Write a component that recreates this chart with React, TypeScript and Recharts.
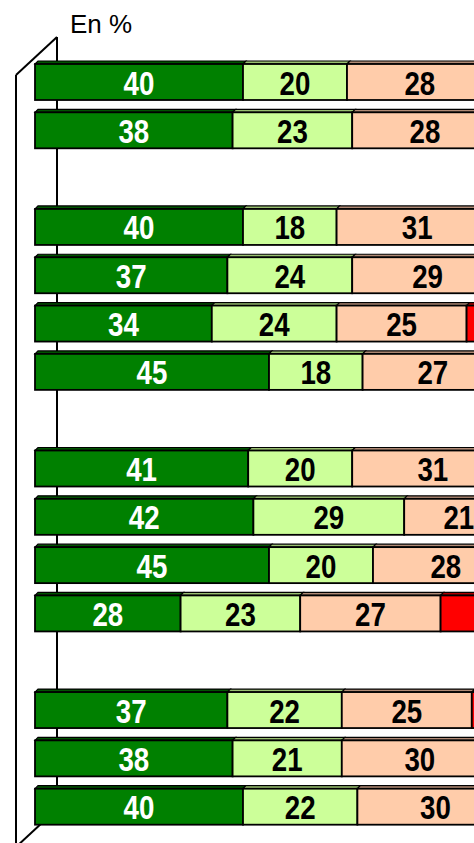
import { BarChart, Bar, XAxis, YAxis, LabelList } from "recharts";

// rows, with empty rows between the groups
const categories = [
  "Ligne 1", "Ligne 2", "",
  "Ligne 3", "Ligne 4", "Ligne 5", "Ligne 6", " ",
  "Ligne 7", "Ligne 8", "Ligne 9", "Ligne 10", "  ",
  "Ligne 11", "Ligne 12", "Ligne 13",
];
const darkGreen = [40, 38, null, 40, 37, 34, 45, null, 41, 42, 45, 28, null, 37, 38, 40];
const lightGreen = [20, 23, null, 18, 24, 24, 18, null, 20, 29, 20, 23, null, 22, 21, 22];
const peach = [28, 28, null, 31, 29, 25, 27, null, 31, 21, 28, 27, null, 25, 30, 30];
const red = [8, 7, null, 7, 6, 12, 7, null, 5, 5, 4, 20, null, 12, 7, 5];

const data = categories.map((name, i) => ({
  name,
  a: darkGreen[i],
  b: lightGreen[i],
  c: peach[i],
  d: red[i],
}));

const FONT = "'Liberation Sans Narrow', 'Arial Narrow', 'Liberation Sans', Arial, sans-serif";

function Bar3D(props: any) {
  const { x, y, width, height, fill, top } = props;
  if (!width || width <= 0 || !isFinite(width) || !isFinite(y)) return null;
  const d = 3;
  const face = `M${x},${y} L${x + d},${y - d} L${x + width + d},${y - d} L${x + width},${y} Z`;
  return (
    <g>
      <path d={face} fill={top} stroke="#000" strokeWidth={1.2} />
      <rect x={x} y={y} width={width} height={height} fill={fill} stroke="#000" strokeWidth={1.8} />
    </g>
  );
}

// condensed bold value label, like Arial Narrow
const narrowLabel = (color: string) => (p: any) => {
  const { x, y, width, height, value } = p;
  if (value == null || !isFinite(width)) return null;
  const cx = x + width / 2;
  const cy = y + height / 2;
  return (
    <text
      transform={`translate(${cx},${cy + 12.5}) scale(0.84,1)`}
      textAnchor="middle"
      fontSize={33}
      fontWeight={700}
      fontFamily={FONT}
      fill={color}
    >
      {value}
    </text>
  );
};

export default function App() {
  return (
    <div
      style={{
        position: "fixed",
        left: 0,
        top: 0,
        width: 474,
        height: 843,
        overflow: "hidden",
        background: "#fff",
      }}
    >
      {/* 3D wall behind the bars */}
      <svg width={474} height={843} style={{ position: "absolute", left: 0, top: 0 }}>
        <text x={70} y={33} fontSize={26} fontFamily={FONT} fill="#000">
          En %
        </text>
        <line x1={57} y1={37} x2={57} y2={809} stroke="#000" strokeWidth={2} />
        <line x1={57} y1={37} x2={16} y2={75} stroke="#000" strokeWidth={2} />
        <line x1={16} y1={75} x2={16} y2={843} stroke="#000" strokeWidth={2} />
        <line x1={57} y1={809} x2={16} y2={847} stroke="#000" strokeWidth={2} />
      </svg>
      <div style={{ position: "absolute", left: 0, top: 0 }}>
        <BarChart
          width={600}
          height={843}
          data={data}
          layout="vertical"
          margin={{ top: 58, right: 45, left: 35, bottom: 12 }}
          barSize={36}
        >
          <XAxis type="number" domain={[0, 100]} hide />
          <YAxis type="category" dataKey="name" hide />
          <Bar
            dataKey="a"
            stackId="s"
            fill="#008000"
            isAnimationActive={false}
            shape={(p: any) => <Bar3D {...p} top="#005400" />}
          >
            <LabelList dataKey="a" content={narrowLabel("#fff")} />
          </Bar>
          <Bar
            dataKey="b"
            stackId="s"
            fill="#CCFF99"
            isAnimationActive={false}
            shape={(p: any) => <Bar3D {...p} top="#99c070" />}
          >
            <LabelList dataKey="b" content={narrowLabel("#000")} />
          </Bar>
          <Bar
            dataKey="c"
            stackId="s"
            fill="#FFCCAA"
            isAnimationActive={false}
            shape={(p: any) => <Bar3D {...p} top="#b08a75" />}
          >
            <LabelList dataKey="c" content={narrowLabel("#000")} />
          </Bar>
          <Bar
            dataKey="d"
            stackId="s"
            fill="#FF0000"
            isAnimationActive={false}
            shape={(p: any) => <Bar3D {...p} top="#b00000" />}
          >
            <LabelList dataKey="d" content={narrowLabel("#000")} />
          </Bar>
        </BarChart>
      </div>
    </div>
  );
}
